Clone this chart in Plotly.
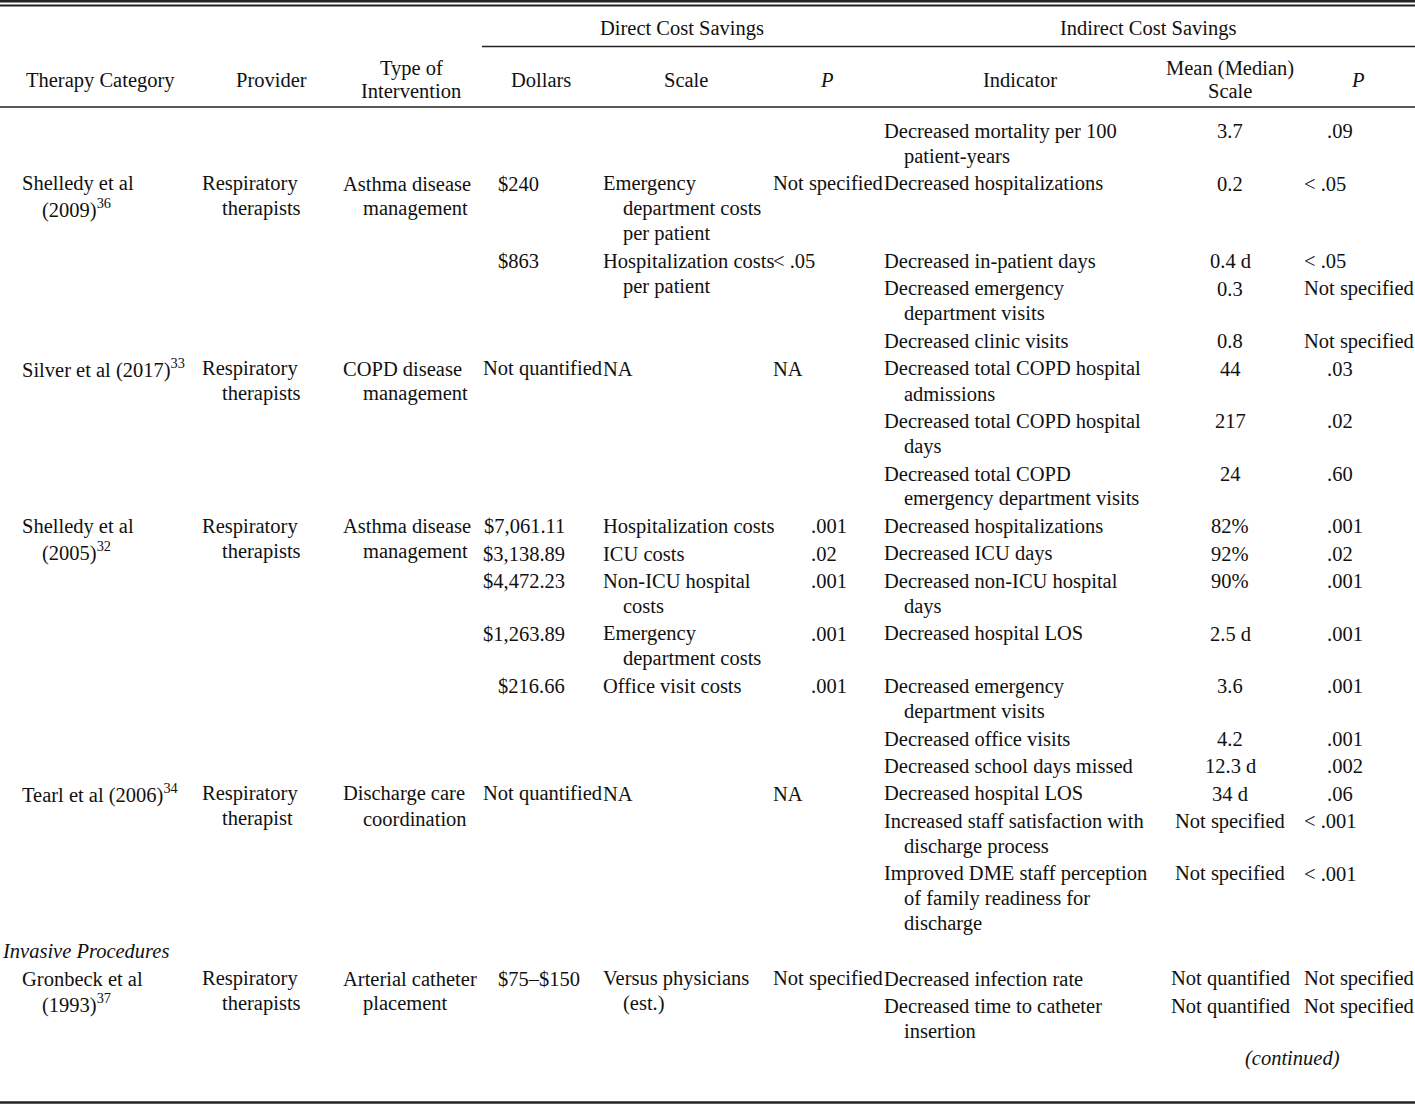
import plotly.graph_objects as go

# rows of the table body, counted by the indicator column
row_lines = [2, 3, 1, 2, 1, 2, 2, 2, 1, 1, 2, 2, 2, 1, 1, 1, 2, 3, 1, 1, 2, 1]

study = {1: "Shelledy et al\n(2009)<sup>36</sup>",
         5: "Silver et al (2017)<sup>33</sup>",
         8: "Shelledy et al\n(2005)<sup>32</sup>",
         15: "Tearl et al (2006)<sup>34</sup>",
         19: "Gronbeck et al\n(1993)<sup>37</sup>"}
sections = {18: "<i>Invasive Procedures</i>"}
provider = {1: "Respiratory\ntherapists", 5: "Respiratory\ntherapists",
            8: "Respiratory\ntherapists", 15: "Respiratory\ntherapist",
            19: "Respiratory\ntherapists"}
intervention = {1: "Asthma disease\nmanagement", 5: "COPD disease\nmanagement",
                8: "Asthma disease\nmanagement", 15: "Discharge care\ncoordination",
                19: "Arterial catheter\nplacement"}
dollars = {1: "$240", 2: "$863", 5: "Not quantified", 8: "$7,061.11",
           9: "$3,138.89", 10: "$4,472.23", 11: "$1,263.89", 12: "$216.66",
           15: "Not quantified", 19: "$75–$150"}
direct_scale = {1: "Emergency\ndepartment costs\nper patient",
                2: "Hospitalization costs\nper patient", 5: "NA",
                8: "Hospitalization costs", 9: "ICU costs",
                10: "Non-ICU hospital\ncosts", 11: "Emergency\ndepartment costs",
                12: "Office visit costs", 15: "NA",
                19: "Versus physicians\n(est.)"}
direct_p = {1: "Not specified", 2: "&lt; .05", 5: "NA", 8: ".001", 9: ".02",
            10: ".001", 11: ".001", 12: ".001", 15: "NA", 19: "Not specified"}
indicator = {0: "Decreased mortality per 100\npatient-years",
             1: "Decreased hospitalizations",
             2: "Decreased in-patient days",
             3: "Decreased emergency\ndepartment visits",
             4: "Decreased clinic visits",
             5: "Decreased total COPD hospital\nadmissions",
             6: "Decreased total COPD hospital\ndays",
             7: "Decreased total COPD\nemergency department visits",
             8: "Decreased hospitalizations",
             9: "Decreased ICU days",
             10: "Decreased non-ICU hospital\ndays",
             11: "Decreased hospital LOS",
             12: "Decreased emergency\ndepartment visits",
             13: "Decreased office visits",
             14: "Decreased school days missed",
             15: "Decreased hospital LOS",
             16: "Increased staff satisfaction with\ndischarge process",
             17: "Improved DME staff perception\nof family readiness for\ndischarge",
             19: "Decreased infection rate",
             20: "Decreased time to catheter\ninsertion"}
mean_scale = {0: "3.7", 1: "0.2", 2: "0.4 d", 3: "0.3", 4: "0.8", 5: "44",
              6: "217", 7: "24", 8: "82%", 9: "92%", 10: "90%", 11: "2.5 d",
              12: "3.6", 13: "4.2", 14: "12.3 d", 15: "34 d",
              16: "Not specified", 17: "Not specified",
              19: "Not quantified", 20: "Not quantified"}
indirect_p = {0: ".09", 1: "&lt; .05", 2: "&lt; .05", 3: "Not specified",
              4: "Not specified", 5: ".03", 6: ".02", 7: ".60", 8: ".001",
              9: ".02", 10: ".001", 11: ".001", 12: ".001", 13: ".001",
              14: ".002", 15: ".06", 16: "&lt; .001", 17: "&lt; .001",
              19: "Not specified", 20: "Not specified"}

FONT = "Liberation Serif, Times New Roman, serif"
FS = 20.5
LINE = 25
W, H = 1415, 1104

row_y = [131]
for n in row_lines[:-1]:
    row_y.append(row_y[-1] + LINE * n + 2.5)

fig = go.Figure()
ann = []


def txt(x, y, s, anchor="left", size=FS):
    ann.append(dict(x=x, y=y, xref="x", yref="y", text=s, showarrow=False,
                    xanchor=anchor, yanchor="middle", borderpad=0,
                    font=dict(family=FONT, size=size, color="#111")))


def hanging(col, x, indent=20):
    for r, s in col.items():
        for k, line in enumerate(s.split("\n")):
            txt(x + (indent if k else 0), row_y[r] + k * LINE, line)


hanging(study, 21)
hanging(sections, 1)
hanging(provider, 201)
hanging(intervention, 342)
hanging(direct_scale, 602)
hanging(indicator, 883)

for r, s in dollars.items():
    if "." in s:
        txt(566, row_y[r], s, "right")
    elif s.startswith("$"):
        txt(497, row_y[r], s)
    else:
        txt(482, row_y[r], s)

for r, s in direct_p.items():
    txt(810 if s.startswith(".") else 772, row_y[r], s)

for r, s in mean_scale.items():
    txt(1230, row_y[r], s, "center")

for r, s in indirect_p.items():
    txt(1326 if s.startswith(".") else 1303, row_y[r], s)

txt(1292, row_y[-1], "<i>(continued)</i>", "center")

# header
txt(682, 28, "Direct Cost Savings", "center")
txt(1148, 28, "Indirect Cost Savings", "center")
for x, s in [(100, "Therapy Category"), (271, "Provider"), (541, "Dollars"),
             (686, "Scale"), (827, "<i>P</i>"), (1020, "Indicator"),
             (1358, "<i>P</i>")]:
    txt(x, 80, s, "center")
for x, a, b in [(411, "Type of", "Intervention"), (1230, "Mean (Median)", "Scale")]:
    txt(x, 68, a, "center")
    txt(x, 91, b, "center")

shapes = []
for y0, lw, x0 in [(1.2, 2.5, 0), (5.5, 2, 0), (46.5, 1.5, 482), (107, 1.5, 0), (1102.5, 2.5, 0)]:
    shapes.append(dict(type="line", xref="x", yref="y", x0=x0, x1=W, y0=y0, y1=y0,
                       line=dict(color="#222", width=lw)))

fig.update_layout(width=W, height=H, margin=dict(l=0, r=0, t=0, b=0),
                  paper_bgcolor="white", plot_bgcolor="white",
                  annotations=ann, shapes=shapes, showlegend=False,
                  xaxis=dict(range=[0, W], visible=False, fixedrange=True),
                  yaxis=dict(range=[H, 0], visible=False, fixedrange=True))

fig.write_html("out.html", config={"displayModeBar": False},
               post_script="document.body.style.margin='0';")
